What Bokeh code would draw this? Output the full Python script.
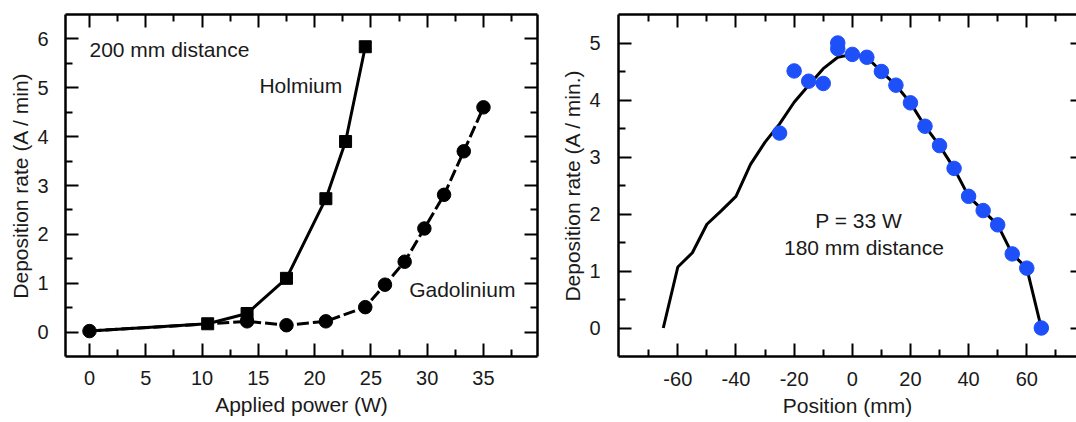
from bokeh.plotting import figure
from bokeh.layouts import row
from bokeh.models import Range1d, FixedTicker, LinearAxis, PrintfTickFormatter
from bokeh.core.properties import value
from bokeh.embed import file_html
from bokeh.resources import INLINE

# ---------------- data: left panel ----------------
power_ho = [0, 10.5, 14, 17.5, 21, 22.75, 24.5]
rate_ho = [0.02, 0.17, 0.38, 1.10, 2.73, 3.90, 5.84]

power_gd = [0, 14, 17.5, 21, 24.5, 26.25, 28, 29.75, 31.5, 33.25, 35]
rate_gd = [0.02, 0.22, 0.14, 0.22, 0.51, 0.97, 1.44, 2.12, 2.81, 3.70, 4.60]

left_xticks = [0, 5, 10, 15, 20, 25, 30, 35]
left_xminor = [2.5, 7.5, 12.5, 17.5, 22.5, 27.5, 32.5, 37.5]
left_yticks = [0, 1, 2, 3, 4, 5, 6]
left_yminor = [0.5, 1.5, 2.5, 3.5, 4.5, 5.5]

# ---------------- data: right panel ----------------
pos_line = [-65, -60, -55, -50, -45, -40, -35, -30, -25, -20, -15, -10, -5, 0,
            5, 10, 15, 20, 25, 30, 35, 40, 45, 50, 55, 60, 65]
rate_line = [0.0, 1.07, 1.32, 1.82, 2.06, 2.31, 2.87, 3.26, 3.58, 3.96, 4.26, 4.55, 4.75, 4.80,
             4.75, 4.50, 4.26, 3.95, 3.54, 3.20, 2.80, 2.31, 2.06, 1.81, 1.30, 1.05, 0.0]

pos_pts = [-25, -20, -15, -10, -5, -5, 0, 5, 10, 15, 20, 25, 30, 35, 40, 45, 50, 55, 60, 65]
rate_pts = [3.42, 4.51, 4.33, 4.29, 5.00, 4.90, 4.80, 4.75, 4.50, 4.26, 3.95, 3.54, 3.20,
            2.80, 2.31, 2.06, 1.81, 1.30, 1.05, 0.0]

right_xticks = [-60, -40, -20, 0, 20, 40, 60]
right_xminor = [-70, -50, -30, -10, 10, 30, 50, 70]
right_yticks = [0, 1, 2, 3, 4, 5]
right_yminor = [0.5, 1.5, 2.5, 3.5, 4.5]

FONT = "Liberation Sans"
TXT = "#1a1a1a"
TICK_FS = "20px"
LAB_FS = "21px"


def style(ax, labels=True, lstand=15, astand=4):
    ax.axis_line_color = "black"
    ax.axis_line_width = 2.5
    ax.major_tick_line_color = "black"
    ax.major_tick_line_width = 2
    ax.minor_tick_line_color = "black"
    ax.minor_tick_line_width = 2
    ax.major_tick_in = 13
    ax.major_tick_out = 0
    ax.minor_tick_in = 7
    ax.minor_tick_out = 0
    if labels:
        ax.formatter = PrintfTickFormatter(format="%d")
        ax.major_label_text_font = FONT
        ax.major_label_text_font_size = TICK_FS
        ax.major_label_text_color = TXT
        ax.major_label_standoff = lstand
        ax.axis_label_text_font = FONT
        ax.axis_label_text_font_size = LAB_FS
        ax.axis_label_text_font_style = "normal"
        ax.axis_label_text_color = TXT
        ax.axis_label_standoff = astand
    else:
        ax.major_label_text_font_size = "1px"
        ax.major_label_text_color = None
        ax.major_label_standoff = 0


def base_fig(width, xr, yr, mbl, mbr):
    p = figure(width=width, height=422, x_range=xr, y_range=yr,
               output_backend="svg", toolbar_location=None,
               min_border_left=mbl, min_border_right=mbr,
               min_border_top=14, min_border_bottom=66)
    p.grid.visible = False
    p.outline_line_color = None
    p.background_fill_color = "white"
    p.border_fill_color = "white"
    return p


def add_text(p, x, y, s, align):
    p.text(x=[x], y=[y], text=[s], text_font=value(FONT), text_font_size=value(LAB_FS),
           text_color=TXT, text_align=align, text_baseline="middle")


# ---------------- left panel ----------------
p1 = base_fig(558, Range1d(-2.13, 39.8), Range1d(-0.5, 6.5), 65, 21)
p1.xaxis.ticker = FixedTicker(ticks=left_xticks, minor_ticks=left_xminor)
p1.yaxis.ticker = FixedTicker(ticks=left_yticks, minor_ticks=left_yminor)
p1.xaxis.axis_label = "Applied power (W)"
p1.yaxis.axis_label = "Deposition rate (A / min)"
style(p1.xaxis[0], lstand=14, astand=5)
style(p1.yaxis[0], lstand=17, astand=2)
top1 = LinearAxis(ticker=FixedTicker(ticks=left_xticks, minor_ticks=left_xminor))
style(top1, labels=False)
p1.add_layout(top1, "above")
right1 = LinearAxis(ticker=FixedTicker(ticks=left_yticks, minor_ticks=left_yminor))
style(right1, labels=False)
p1.add_layout(right1, "right")

p1.line(power_gd, rate_gd, line_color="black", line_width=3, line_dash="12 4")
p1.line(power_ho, rate_ho, line_color="black", line_width=3)
p1.scatter(power_gd, rate_gd, marker="circle", size=13.5, color="black")
p1.scatter(power_ho[1:], rate_ho[1:], marker="square", size=12, color="black")

add_text(p1, 0, 5.78, "200 mm distance", "left")
add_text(p1, 15.1, 5.04, "Holmium", "left")
add_text(p1, 28.4, 0.87, "Gadolinium", "left")

# ---------------- right panel ----------------
p2 = base_fig(518, Range1d(-80.4, 77.1), Range1d(-0.5, 5.5), 55, 0)
p2.xaxis.ticker = FixedTicker(ticks=right_xticks, minor_ticks=right_xminor)
p2.yaxis.ticker = FixedTicker(ticks=right_yticks, minor_ticks=right_yminor)
p2.xaxis.axis_label = "Position (mm)"
p2.yaxis.axis_label = "Deposition rate (A / min.)"
style(p2.xaxis[0], lstand=15, astand=5)
style(p2.yaxis[0], lstand=18, astand=2)
top2 = LinearAxis(ticker=FixedTicker(ticks=right_xticks, minor_ticks=right_xminor))
style(top2, labels=False)
p2.add_layout(top2, "above")
right2 = LinearAxis(ticker=FixedTicker(ticks=right_yticks, minor_ticks=right_yminor))
style(right2, labels=False)
right2.axis_line_color = None
right2.major_tick_in = 6
right2.minor_tick_in = 0
p2.add_layout(right2, "right")

p2.line(pos_line, rate_line, line_color="black", line_width=3)
p2.scatter(pos_pts, rate_pts, marker="circle", size=14.5, color="#1e50fa")

add_text(p2, 2.2, 1.89, "P = 33 W", "center")
add_text(p2, 4.0, 1.42, "180 mm distance", "center")

layout = row(p1, p2)
open("out.html", "w").write(file_html(layout, INLINE))
